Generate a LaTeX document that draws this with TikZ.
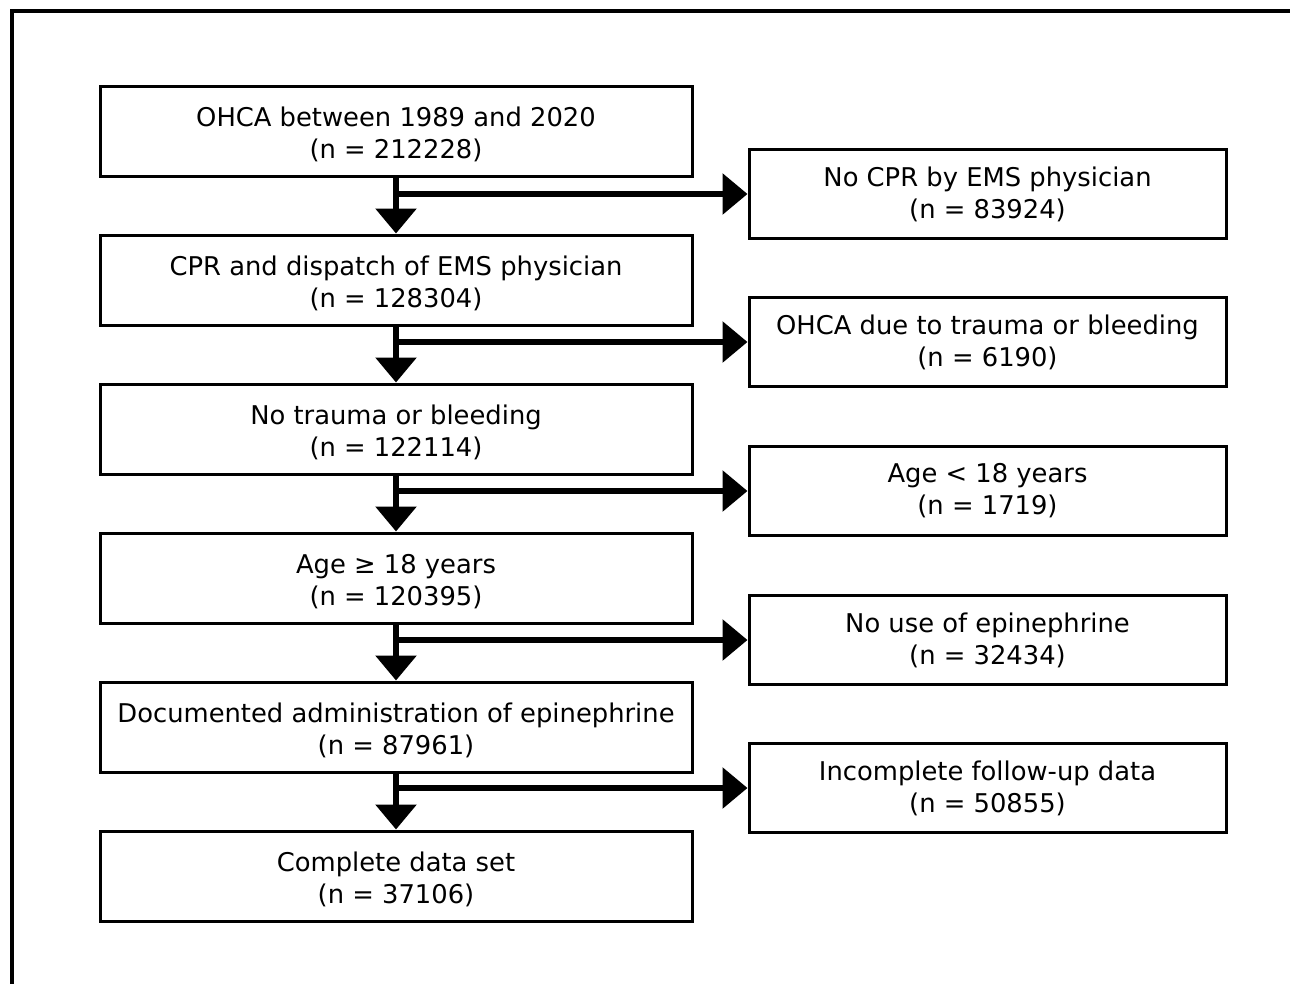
\documentclass[tikz,border=0pt]{standalone}
\usepackage{fontspec}
\setmainfont{DejaVu Sans}
\usetikzlibrary{arrows.meta}
\newcommand\topstrut{\rule{0pt}{25.5pt}}
\tikzset{
  box/.style={draw, line width=3pt, minimum width=592pt, minimum height=90pt, align=center, inner sep=0pt, font=\fontsize{25.8}{32}\selectfont},
  rbox/.style={box, minimum width=477pt, minimum height=89pt},
  flow/.style={line width=6pt, -{Triangle[width=40pt,length=25pt]}}
}
\begin{document}
\begin{tikzpicture}[x=1pt,y=-1pt]
\useasboundingbox (0,0) rectangle (1290,983);
\draw[line width=4pt] (12,1000) -- (12,11) -- (1300,11);
\node[box] (a1) at (396,131) {\topstrut OHCA between 1989 and 2020\\(n = 212228)};
\node[box] (a2) at (396,280) {\topstrut CPR and dispatch of EMS physician\\(n = 128304)};
\node[box] (a3) at (396,429) {\topstrut No trauma or bleeding\\(n = 122114)};
\node[box] (a4) at (396,578) {\topstrut Age ≥ 18 years\\(n = 120395)};
\node[box] (a5) at (396,727) {\topstrut Documented administration of epinephrine\\(n = 87961)};
\node[box] (a6) at (396,876) {\topstrut Complete data set\\(n = 37106)};
\node[rbox] (b1) at (987.5,194) {No CPR by EMS physician\\(n = 83924)};
\node[rbox] (b2) at (987.5,342) {OHCA due to trauma or bleeding\\(n = 6190)};
\node[rbox] (b3) at (987.5,491) {Age < 18 years\\(n = 1719)};
\node[rbox] (b4) at (987.5,640) {No use of epinephrine\\(n = 32434)};
\node[rbox] (b5) at (987.5,788) {Incomplete follow-up data\\(n = 50855)};
\foreach \i/\j in {1/2,2/3,3/4,4/5,5/6}{
  \draw[flow] (a\i.south) -- (a\j.north);
  \coordinate (m\i) at (a\i.south |- b\i.west);
  \draw[flow] (m\i) -- (b\i.west);
}
\end{tikzpicture}
\end{document}
